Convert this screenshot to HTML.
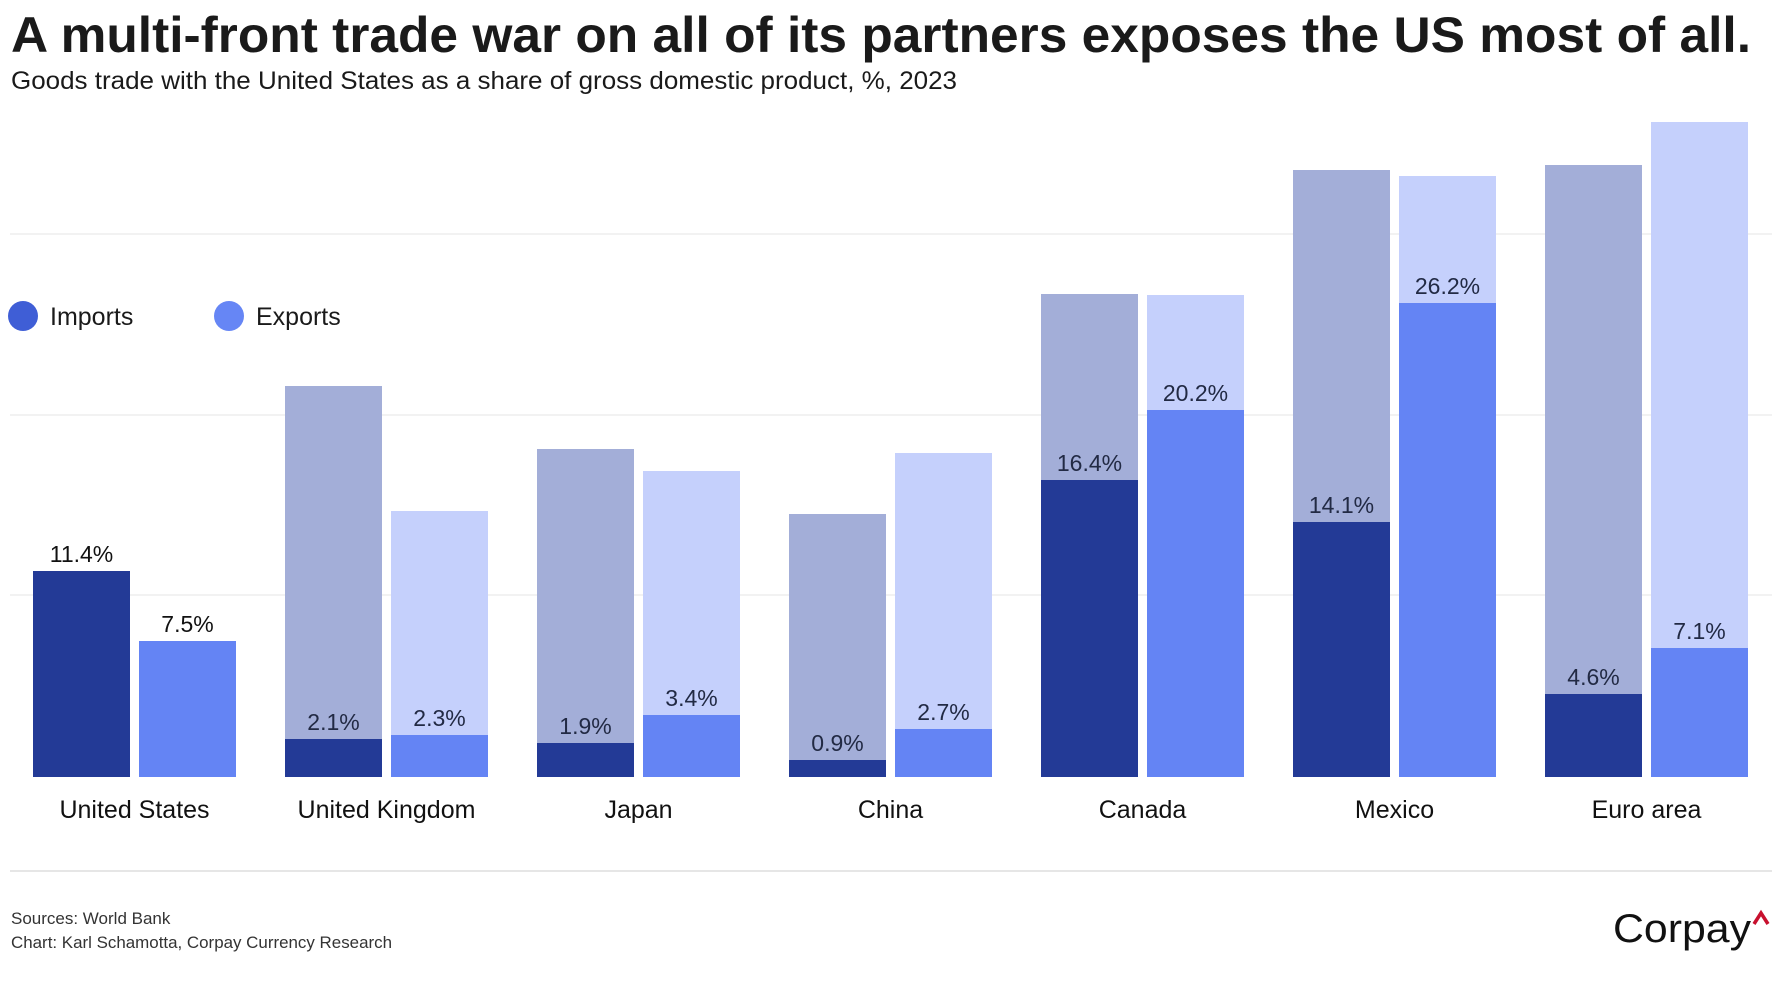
<!DOCTYPE html>
<html><head><meta charset="utf-8"><style>
html,body{margin:0;padding:0;background:#fff;}
svg{display:block;font-family:"Liberation Sans",sans-serif;}
</style></head><body>
<svg width="1780" height="1000" viewBox="0 0 1780 1000" xmlns="http://www.w3.org/2000/svg">
<rect width="1780" height="1000" fill="#fff"/>
<text x="11" y="52" font-size="50" font-weight="bold" fill="#1a1a1a" textLength="1740" lengthAdjust="spacingAndGlyphs">A multi-front trade war on all of its partners exposes the US most of all.</text>
<text x="11" y="89" font-size="25" fill="#1a1a1a" textLength="946" lengthAdjust="spacingAndGlyphs">Goods trade with the United States as a share of gross domestic product, %, 2023</text>
<g stroke="#eeeeee" stroke-width="1.5">
<line x1="10" y1="234" x2="1772" y2="234"/>
<line x1="10" y1="415" x2="1772" y2="415"/>
<line x1="10" y1="595" x2="1772" y2="595"/>
</g>
<circle cx="23" cy="316" r="15" fill="#3f5ed6"/>
<text x="50" y="325" font-size="25" fill="#1a1a1a">Imports</text>
<circle cx="229" cy="316" r="15" fill="#6686f5"/>
<text x="256" y="325" font-size="25" fill="#1a1a1a">Exports</text>
<g>
<!-- US -->
<rect x="33" y="571" width="97" height="206" fill="#233a96"/>
<rect x="139" y="641" width="97" height="136" fill="#6484f4"/>
<!-- UK -->
<rect x="285" y="386" width="97" height="391" fill="#a3aed8"/>
<rect x="285" y="739" width="97" height="38" fill="#233a96"/>
<rect x="391" y="511" width="97" height="266" fill="#c5d0fc"/>
<rect x="391" y="735" width="97" height="42" fill="#6484f4"/>
<!-- Japan -->
<rect x="537" y="449" width="97" height="328" fill="#a3aed8"/>
<rect x="537" y="743" width="97" height="34" fill="#233a96"/>
<rect x="643" y="471" width="97" height="306" fill="#c5d0fc"/>
<rect x="643" y="715" width="97" height="62" fill="#6484f4"/>
<!-- China -->
<rect x="789" y="514" width="97" height="263" fill="#a3aed8"/>
<rect x="789" y="760" width="97" height="17" fill="#233a96"/>
<rect x="895" y="453" width="97" height="324" fill="#c5d0fc"/>
<rect x="895" y="729" width="97" height="48" fill="#6484f4"/>
<!-- Canada -->
<rect x="1041" y="294" width="97" height="483" fill="#a3aed8"/>
<rect x="1041" y="480" width="97" height="297" fill="#233a96"/>
<rect x="1147" y="295" width="97" height="482" fill="#c5d0fc"/>
<rect x="1147" y="410" width="97" height="367" fill="#6484f4"/>
<!-- Mexico -->
<rect x="1293" y="170" width="97" height="607" fill="#a3aed8"/>
<rect x="1293" y="522" width="97" height="255" fill="#233a96"/>
<rect x="1399" y="176" width="97" height="601" fill="#c5d0fc"/>
<rect x="1399" y="303" width="97" height="474" fill="#6484f4"/>
<!-- Euro -->
<rect x="1545" y="165" width="97" height="612" fill="#a3aed8"/>
<rect x="1545" y="694" width="97" height="83" fill="#233a96"/>
<rect x="1651" y="122" width="97" height="655" fill="#c5d0fc"/>
<rect x="1651" y="648" width="97" height="129" fill="#6484f4"/>
</g>
<g font-size="23" fill="#222a44" text-anchor="middle">
<text x="81.5" y="562" fill="#111">11.4%</text>
<text x="187.5" y="632" fill="#111">7.5%</text>
<text x="333.5" y="730">2.1%</text>
<text x="439.5" y="726">2.3%</text>
<text x="585.5" y="734">1.9%</text>
<text x="691.5" y="706">3.4%</text>
<text x="837.5" y="751">0.9%</text>
<text x="943.5" y="720">2.7%</text>
<text x="1089.5" y="471">16.4%</text>
<text x="1195.5" y="401">20.2%</text>
<text x="1341.5" y="513">14.1%</text>
<text x="1447.5" y="294">26.2%</text>
<text x="1593.5" y="685">4.6%</text>
<text x="1699.5" y="639">7.1%</text>
</g>
<g font-size="25" fill="#111" text-anchor="middle">
<text x="134.5" y="818">United States</text>
<text x="386.5" y="818">United Kingdom</text>
<text x="638.5" y="818">Japan</text>
<text x="890.5" y="818">China</text>
<text x="1142.5" y="818">Canada</text>
<text x="1394.5" y="818">Mexico</text>
<text x="1646.5" y="818">Euro area</text>
</g>
<line x1="10" y1="871" x2="1772" y2="871" stroke="#dddddd" stroke-width="1.5"/>
<text x="11" y="924" font-size="17" fill="#333">Sources: World Bank</text>
<text x="11" y="948" font-size="17" fill="#333" textLength="381" lengthAdjust="spacingAndGlyphs">Chart: Karl Schamotta, Corpay Currency Research</text>
<text x="1613" y="942" font-size="40" fill="#111" textLength="138" lengthAdjust="spacingAndGlyphs">Corpay</text>
<path d="M1754 924 L1761 913 L1768 924" stroke="#c8102e" stroke-width="3.5" fill="none"/>
</svg>
</body></html>
